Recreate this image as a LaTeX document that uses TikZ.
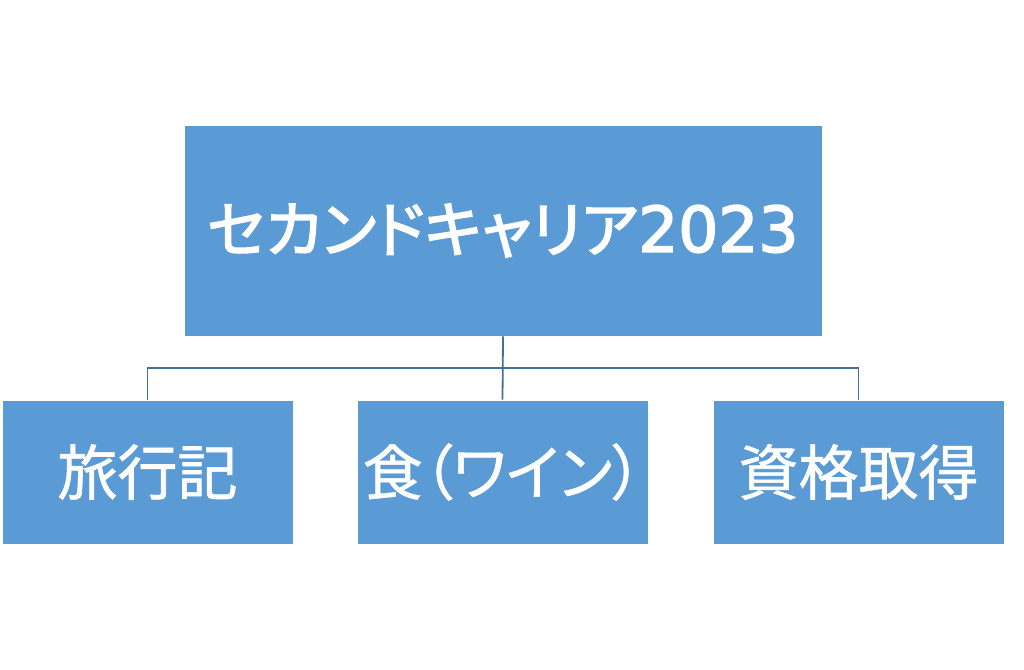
\documentclass[tikz,border=0pt]{standalone}
\usepackage{fontspec}
\newfontfamily\jp[RawFeature=+palt,FakeBold=1]{Noto Sans CJK JP}
\newfontfamily\jpb[RawFeature=+palt,FakeBold=2.6]{Noto Sans CJK JP}
\newfontfamily\digitfont[FakeBold=2.6]{DejaVu Sans}
\definecolor{boxblue}{HTML}{5B9BD5}
\definecolor{linkblue}{HTML}{41719C}
\begin{document}
\begin{tikzpicture}[x=1pt,y=-1pt,
  topbox/.style={fill=boxblue,draw=white,line width=0.8pt,minimum width=638pt,minimum height=211pt,inner sep=0pt,text=white,font=\jpb\fontsize{61}{64}\selectfont},
  subbox/.style={fill=boxblue,draw=white,line width=0.8pt,minimum width=291pt,minimum height=144pt,inner sep=0pt,text=white,font=\jp\fontsize{60}{64}\selectfont},
  link/.style={draw=linkblue,line width=1.8pt}]
\useasboundingbox (0,0) rectangle (1024,669);
\node[topbox] (top) at (503,230.5) {セカンドキャリア{\digitfont\fontsize{63}{64}\selectfont 2023}};
\node[subbox] (a) at (147.5,472) {旅行記};
\node[subbox] (b) at (502.5,472) {食（ワイン）};
\node[subbox] (c) at (858.5,472) {資格取得};
\coordinate (j) at (503,368);
\draw[link] (top.south) -- (b.north);
\draw[link] (a.north) -- (a.north |- j) -- (c.north |- j) -- (c.north);
\end{tikzpicture}
\end{document}
